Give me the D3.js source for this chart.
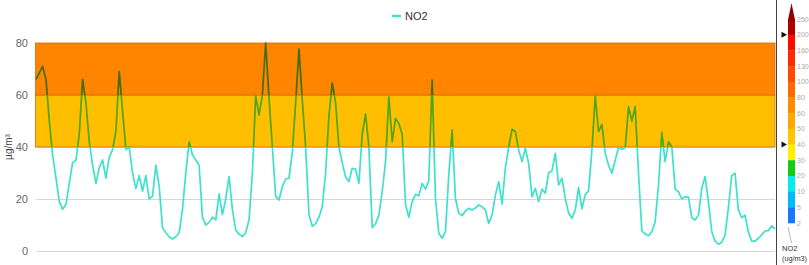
<!DOCTYPE html>
<html>
<head>
<meta charset="utf-8">
<script src="https://cdn.jsdelivr.net/npm/d3@7"></script>
<style>
  body { margin: 0; background: #fff; }
  svg { display: block; font-family: "Liberation Sans", Arial, sans-serif; }
</style>
</head>
<body>
<div id="wrapper"></div>
<script>
// hourly NO2 readings (µg/m³)
const no2Values = [
  66, 68.5, 71, 66, 50, 37, 28, 19, 16, 18,
  26, 34, 35, 45, 66, 57, 42, 33, 26, 32,
  35, 28, 36, 39, 46, 69, 54, 39, 40, 30,
  24, 29, 23, 29, 20, 21, 33, 25, 9, 7,
  5.5, 4.6, 5.5, 7, 16, 30, 42, 37, 35, 33,
  13, 10, 11, 13, 12, 22, 14, 20, 28.6, 16,
  8, 6.5, 5.5, 7, 12, 30, 59.6, 52.3, 60, 80,
  59, 40, 21, 19.6, 24.7, 27.7, 28, 38, 57, 77.7,
  58, 40, 14, 9.5, 10.5, 13, 17, 30, 52, 64.7,
  57, 40, 34, 28.5, 26.7, 31.8, 31.5, 26, 45, 52.7,
  40, 9, 10.5, 13.8, 22.8, 34.4, 59.3, 42, 51, 49,
  45, 18, 13, 19, 21.8, 21.2, 26, 23.8, 27, 65.8,
  20.3, 6.8, 4.9, 7.4, 29.2, 46.5, 20.3, 14.5, 13.6, 15.4,
  16.4, 15.8, 16.5, 17.7, 17, 15.8, 10.6, 13.8, 21.5, 26.7,
  18, 32, 40, 46.8, 45.9, 38.8, 34.4, 39.5, 33.7, 20.9,
  24.1, 19, 23.8, 22.2, 30.1, 30.8, 37.6, 25.4, 28, 20.3,
  14.5, 12.6, 15.8, 24.4, 16.2, 21.8, 23.1, 38.8, 59.6, 45.9,
  48.7, 37.6, 33, 29.9, 35, 39.7, 39.1, 39.7, 55.5, 50,
  55.5, 30, 7.7, 6.5, 5.9, 7.4, 11.3, 25.4, 45.6, 34.4,
  42, 40.1, 23.8, 22.8, 20, 20.9, 20.7, 12.8, 11.9, 13.8,
  24.1, 28.6, 19, 7.4, 3.8, 2.6, 3.3, 6.2, 16.7, 29,
  29.9, 15.8, 12.8, 13.8, 7.2, 3.8, 3.8, 4.9, 6.2, 7.7,
  7.8, 9.7, 8.5
]

const yTicks = [0, 20, 40, 60, 80]

// shaded limit bands
const bandFrom = [40, 60]
const bandTo = [60, 80]
const bandColors = ["#ffbf00", "#ff8400"]

// colour key on the right
const keyLabels = ["250", "200", "160", "130", "100", "80", "60", "50", "40", "30", "20", "10", "5", "2"]
const keyColors = ["#b00000", "#ff0a00", "#ff2a00", "#ff4a00", "#ff6a00", "#ff8c00", "#ffa800", "#ffc400", "#ffee00", "#11cc11", "#00eeee", "#00bbff", "#1a75ff"]
const keyMarkers = ["200", "40"]

const legendName = "NO2"
const unitLabel = "µg/m³"

const width = 809
const height = 265
const margin = { top: 43, right: 34, bottom: 14, left: 35.5 }

const svg = d3.select("#wrapper")
  .append("svg")
    .attr("width", width)
    .attr("height", height)

const xScale = d3.scaleLinear()
  .domain([0, no2Values.length - 1])
  .range([margin.left + 0.5, width - margin.right])

const yScale = d3.scaleLinear()
  .domain([0, 80])
  .range([height - margin.bottom, margin.top])

// grid lines
svg.append("g")
  .selectAll("line")
  .data(yTicks)
  .join("line")
    .attr("x1", margin.left + 1)
    .attr("x2", width - margin.right)
    .attr("y1", d => Math.round(yScale(d)) + 0.5)
    .attr("y2", d => Math.round(yScale(d)) + 0.5)
    .attr("stroke", "#d6d6d6")
    .attr("stroke-width", 1)

// bands
svg.append("g")
  .selectAll("rect")
  .data(bandFrom)
  .join("rect")
    .attr("x", margin.left)
    .attr("width", width - margin.right - margin.left)
    .attr("y", (d, i) => yScale(bandTo[i]))
    .attr("height", (d, i) => yScale(d) - yScale(bandTo[i]))
    .attr("fill", (d, i) => bandColors[i])
    .attr("stroke", "#d96a00")
    .attr("stroke-width", 0.8)

// tick labels
svg.append("g")
  .selectAll("text")
  .data(yTicks)
  .join("text")
    .attr("x", 28)
    .attr("y", d => yScale(d) + 4)
    .attr("text-anchor", "end")
    .attr("font-size", 11)
    .attr("fill", "#666")
    .text(d => d)

svg.append("text")
  .attr("transform", `translate(12, ${yScale(40)}) rotate(-90)`)
  .attr("text-anchor", "middle")
  .attr("font-size", 10)
  .attr("fill", "#444")
  .text(unitLabel)

// line coloured by zone
const defs = svg.append("defs")
const lineGrad = defs.append("linearGradient")
    .attr("id", "zone-grad")
    .attr("gradientUnits", "userSpaceOnUse")
    .attr("x1", 0).attr("x2", 0)
    .attr("y1", yScale(80)).attr("y2", yScale(0))
const zoneStops = [
  [0, "#3f6f0c"], [0.25, "#3f6f0c"],
  [0.25, "#4ea516"], [0.5, "#4ea516"],
  [0.5, "#3fe0cc"], [1, "#3fe0cc"]
]
lineGrad.selectAll("stop")
  .data(zoneStops)
  .join("stop")
    .attr("offset", d => d[0])
    .attr("stop-color", d => d[1])

const lineGenerator = d3.line()
  .x((d, i) => xScale(i))
  .y(d => yScale(d))

svg.append("path")
  .attr("d", lineGenerator(no2Values))
  .attr("fill", "none")
  .attr("stroke", "url(#zone-grad)")
  .attr("stroke-width", 1.7)
  .attr("stroke-linejoin", "round")

// legend
const legend = svg.append("g")
  .attr("transform", "translate(392, 16)")
legend.append("line")
  .attr("x1", 0).attr("x2", 9)
  .attr("stroke", "#3fe0cc")
  .attr("stroke-width", 2.5)
legend.append("text")
  .attr("x", 13)
  .attr("y", 4)
  .attr("font-size", 11)
  .attr("fill", "#333")
  .text(legendName)

// colour key
svg.append("line")
  .attr("x1", 776.5).attr("x2", 776.5)
  .attr("y1", 0).attr("y2", height)
  .attr("stroke", "#444")

const keyScale = d3.scalePoint()
  .domain(keyLabels)
  .range([19, 223])

const keyX = 788
const keyW = 7

const key = svg.append("g")
key.selectAll("rect")
  .data(keyColors)
  .join("rect")
    .attr("x", keyX)
    .attr("width", keyW)
    .attr("y", (d, i) => keyScale(keyLabels[i]))
    .attr("height", keyScale.step() + 0.3)
    .attr("fill", d => d)

// arrow tip above 250
key.append("path")
  .attr("d", `M${keyX},${keyScale("250") + 1} L${keyX + keyW / 2},3 L${keyX + keyW},${keyScale("250") + 1} Z`)
  .attr("fill", "#8b0000")

key.selectAll(".key-label")
  .data(keyLabels)
  .join("text")
    .attr("class", "key-label")
    .attr("x", 797)
    .attr("y", d => keyScale(d) + 2.5)
    .attr("font-size", 7)
    .attr("fill", "#aaa")
    .text(d => d)

key.selectAll(".key-marker")
  .data(keyMarkers)
  .join("path")
    .attr("class", "key-marker")
    .attr("d", d => {
      const y = keyScale(d)
      return `M781.5,${y - 3} L787,${y} L781.5,${y + 3} Z`
    })
    .attr("fill", "#111")

key.append("line")
  .attr("x1", keyX).attr("y1", keyScale("2") + 4)
  .attr("x2", 791.5).attr("y2", 243)
  .attr("stroke", "#999")
  .attr("stroke-width", 0.7)

key.append("text")
  .attr("x", 782)
  .attr("y", 251)
  .attr("font-size", 7.5)
  .attr("fill", "#333")
  .text(legendName)
key.append("text")
  .attr("x", 782)
  .attr("y", 261)
  .attr("font-size", 7.5)
  .attr("textLength", 25)
  .attr("lengthAdjust", "spacingAndGlyphs")
  .attr("fill", "#333")
  .text("(ug/m3)")
</script>
</body>
</html>
